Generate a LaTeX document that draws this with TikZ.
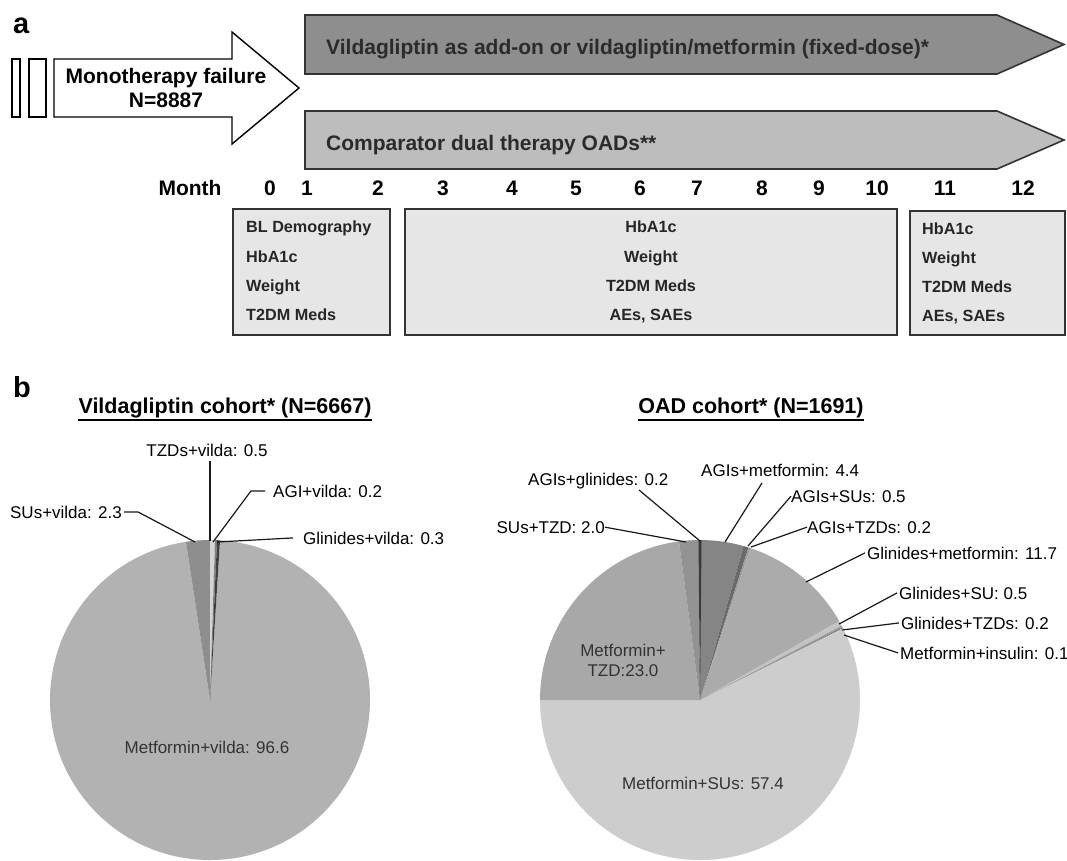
\documentclass[tikz,border=0pt]{standalone}
\usepackage{fontspec}
\setmainfont{Liberation Sans}
\usetikzlibrary{calc}
\definecolor{arrdark}{HTML}{8E8E8E}
\definecolor{arrlight}{HTML}{BDBDBD}
\definecolor{boxfill}{HTML}{E6E6E6}
\definecolor{edge}{HTML}{333333}
\definecolor{txtdark}{HTML}{2B2B2B}
\definecolor{lA}{HTML}{D4D4D4}
\definecolor{lB}{HTML}{7F7F7F}
\definecolor{lC}{HTML}{404040}
\definecolor{lD}{HTML}{B2B2B2}
\definecolor{lE}{HTML}{8E8E8E}
\definecolor{rA}{HTML}{858585}
\definecolor{rB}{HTML}{6A6A6A}
\definecolor{rC}{HTML}{9C9C9C}
\definecolor{rD}{HTML}{ABABAB}
\definecolor{rE}{HTML}{C4C4C4}
\definecolor{rF}{HTML}{A0A0A0}
\definecolor{rG}{HTML}{707070}
\definecolor{rH}{HTML}{CDCDCD}
\definecolor{rI}{HTML}{A8A8A8}
\definecolor{rJ}{HTML}{939393}
\definecolor{rK}{HTML}{3A3A3A}
\newcommand{\pslice}[4]{\fill[#4] (#1) -- ++({#2*3.6-90}:160) arc[start angle={#2*3.6-90}, end angle={#3*3.6-90}, radius=160] -- cycle;}
\begin{document}
\begin{tikzpicture}[x=1pt,y=-1pt,
  lab/.style={font=\fontsize{17}{20}\selectfont, text=black, inner sep=0pt},
  inlab/.style={font=\fontsize{17}{20}\selectfont, text=black!80, inner sep=0pt},
  lead/.style={draw=black!90, line width=1.2pt},
  bigb/.style={font=\bfseries\fontsize{21}{25}\selectfont, inner sep=0pt},
  ttl/.style={font=\bfseries\fontsize{21.5}{25}\selectfont, inner sep=0pt},
  panel/.style={font=\bfseries\fontsize{29}{32}\selectfont, inner sep=0pt},
  boxt/.style={font=\bfseries\fontsize{16.2}{19}\selectfont, inner sep=0pt, text=black!85},
  tbox/.style={draw=edge, fill=boxfill, line width=1.6pt},
  barrow/.style={draw=edge, line width=1.6pt, line join=miter}]
\fill[white] (0,0) rectangle (1067,860);
\useasboundingbox (0,0) rectangle (1067,860);

% ---------- panel a ----------
\node[panel, anchor=base west] (pa) at (13,33) {a};
\draw[draw=black, line width=1.4pt, fill=white] (12,59) rectangle (20,117);
\draw[draw=black, line width=1.4pt, fill=white] (29,59) rectangle (46,117);
\draw[draw=black, line width=1.4pt, fill=white, line join=miter]
  (54,59) -- (232,59) -- (232,32) -- (299,88) -- (232,144) -- (232,117) -- (54,117) -- cycle;
\node[bigb, anchor=base] (mono1) at (166,83) {Monotherapy failure};
\node[bigb, anchor=base] (mono2) at (166,107) {N=8887};

\draw[barrow, fill=arrdark] (305,15) -- (997,15) -- (1064,44.5) -- (997,74) -- (305,74) -- cycle;
\draw[barrow, fill=arrlight] (305,111) -- (997,111) -- (1064,140) -- (997,169) -- (305,169) -- cycle;
\node[bigb, anchor=base west, text=txtdark] (vtxt) at (326,54) {Vildagliptin as add-on or vildagliptin/metformin (fixed-dose)*};
\node[bigb, anchor=base west, text=txtdark] (ctxt) at (326,150) {Comparator dual therapy OADs**};

\node[bigb, anchor=base] (month) at (190,195) {Month};
\foreach \n/\x in {0/270,1/307,2/378,3/443,4/512,5/576,6/640,7/697,8/762,9/819,10/877,11/945,12/1023}
  \node[bigb, anchor=base] (m\n) at (\x,195) {\n};

\draw[tbox] (233,209) rectangle (390,335);
\draw[tbox] (405,209) rectangle (897,335);
\draw[tbox] (910,211) rectangle (1065,335);
\foreach \t/\y [count=\i] in {BL Demography/232.5, HbA1c/262.5, Weight/291.5, T2DM Meds/320.5}
  \node[boxt, anchor=base west] (bl\i) at (246,\y) {\t};
\foreach \t/\y [count=\i] in {HbA1c/232.5, Weight/262.5, T2DM Meds/291.5, {AEs, SAEs}/320.5}
  \node[boxt, anchor=base] (bm\i) at (651,\y) {\t};
\foreach \t/\y [count=\i] in {HbA1c/234, Weight/263.5, T2DM Meds/292.5, {AEs, SAEs}/321.5}
  \node[boxt, anchor=base west] (br\i) at (922,\y) {\t};

% ---------- panel b ----------
\node[panel, anchor=base west] (pb) at (13,397) {b};
\node[ttl, anchor=base] (t1) at (225,413) {Vildagliptin cohort* (N=6667)};
\draw[line width=1.8pt] ($(t1.base west)+(0,7)$) -- ($(t1.base east)+(0,7)$);
\node[ttl, anchor=base] (t2) at (751,413) {OAD cohort* (N=1691)};
\draw[line width=1.8pt] ($(t2.base west)+(0,7)$) -- ($(t2.base east)+(0,7)$);

% left pie
\coordinate (lc) at (210,700);
\pslice{lc}{1.0}{97.6}{lD}
\pslice{lc}{97.6}{100}{lE}
\pslice{lc}{0}{0.5}{lA}
\pslice{lc}{0.5}{0.7}{lB}
\pslice{lc}{0.7}{1.0}{lC}

\node[inlab, anchor=base] (lmv) at (207,753) {Metformin+vilda: 96.6};
\node[lab, anchor=base] (ltz) at (207,456) {TZDs+vilda: 0.5};
\node[lab, anchor=base west] (lag) at (273,497) {AGI+vilda: 0.2};
\node[lab, anchor=base west] (lgl) at (303,544) {Glinides+vilda: 0.3};
\node[lab, anchor=base east] (lsu) at (122,518) {SUs+vilda: 2.3};

\coordinate (ptz) at (210,541);
\coordinate (pag) at (213,542);
\coordinate (pgl) at (217,542);
\coordinate (psu) at (195,542);
\draw[lead] (ptz |- ltz.south) ++(0,5) -- (ptz);
\draw[lead] ($(lag.west)+(-8,0)$) -- ++(-14,0) -- (pag);
\draw[lead] ($(lgl.west)+(-10,0)$) -- (pgl);
\draw[lead] ($(lsu.east)+(2,0)$) -- ++(14,0) -- (psu);

% right pie
\coordinate (rc) at (700,700);
\pslice{rc}{0}{4.4}{rA}
\pslice{rc}{4.4}{4.9}{rB}
\pslice{rc}{4.9}{5.1}{rC}
\pslice{rc}{5.1}{16.8}{rD}
\pslice{rc}{16.8}{17.3}{rE}
\pslice{rc}{17.3}{17.5}{rF}
\pslice{rc}{17.5}{17.6}{rG}
\pslice{rc}{17.6}{75.0}{rH}
\pslice{rc}{75.0}{97.9}{rI}
\pslice{rc}{97.9}{99.9}{rJ}
\pslice{rc}{99.85}{100.15}{rK}

\node[inlab, anchor=base] (rms) at (703,789) {Metformin+SUs: 57.4};
\node[inlab, anchor=base] (rmt1) at (623,656) {Metformin+};
\node[inlab, anchor=base] (rmt2) at (623,676) {TZD:23.0};

\node[lab, anchor=base west] (rag) at (528,485) {AGIs+glinides: 0.2};
\node[lab, anchor=base west] (ram) at (701,476) {AGIs+metformin: 4.4};
\node[lab, anchor=base west] (ras) at (791,502) {AGIs+SUs: 0.5};
\node[lab, anchor=base west] (rat) at (807,533) {AGIs+TZDs: 0.2};
\node[lab, anchor=base east] (rst) at (605,533) {SUs+TZD: 2.0};
\node[lab, anchor=base west] (rgm) at (867,559) {Glinides+metformin: 11.7};
\node[lab, anchor=base west] (rgs) at (899,599) {Glinides+SU: 0.5};
\node[lab, anchor=base west] (rgt) at (901,629) {Glinides+TZDs: 0.2};
\node[lab, anchor=base west] (rmi) at (900,659) {Metformin+insulin: 0.1};

\coordinate (qag0) at (639,490);
\coordinate (qag) at (700,541);
\coordinate (qam0) at (762,483);
\coordinate (qam) at (725,542);
\coordinate (qas) at (748,546);
\coordinate (qat) at (751,547);
\coordinate (qst) at (686,542);
\coordinate (qgm) at (806,582);
\coordinate (qgs) at (839,624);
\coordinate (qgt) at (842,630);
\coordinate (qmi) at (844,635);
\draw[lead] (qag0) -- (qag);
\draw[lead] (qam0) -- (qam);
\draw[lead] (ras.west) -- (qas);
\draw[lead] (rat.west) -- (qat);
\draw[lead] (rst.east) -- (qst);
\draw[lead] ($(rgm.west)+(-2,0)$) -- (qgm);
\draw[lead] ($(rgs.west)+(-2,0)$) -- (qgs);
\draw[lead] ($(rgt.west)+(-2,0)$) -- (qgt);
\draw[lead] ($(rmi.west)+(-2,0)$) -- (qmi);
\end{tikzpicture}
\end{document}
